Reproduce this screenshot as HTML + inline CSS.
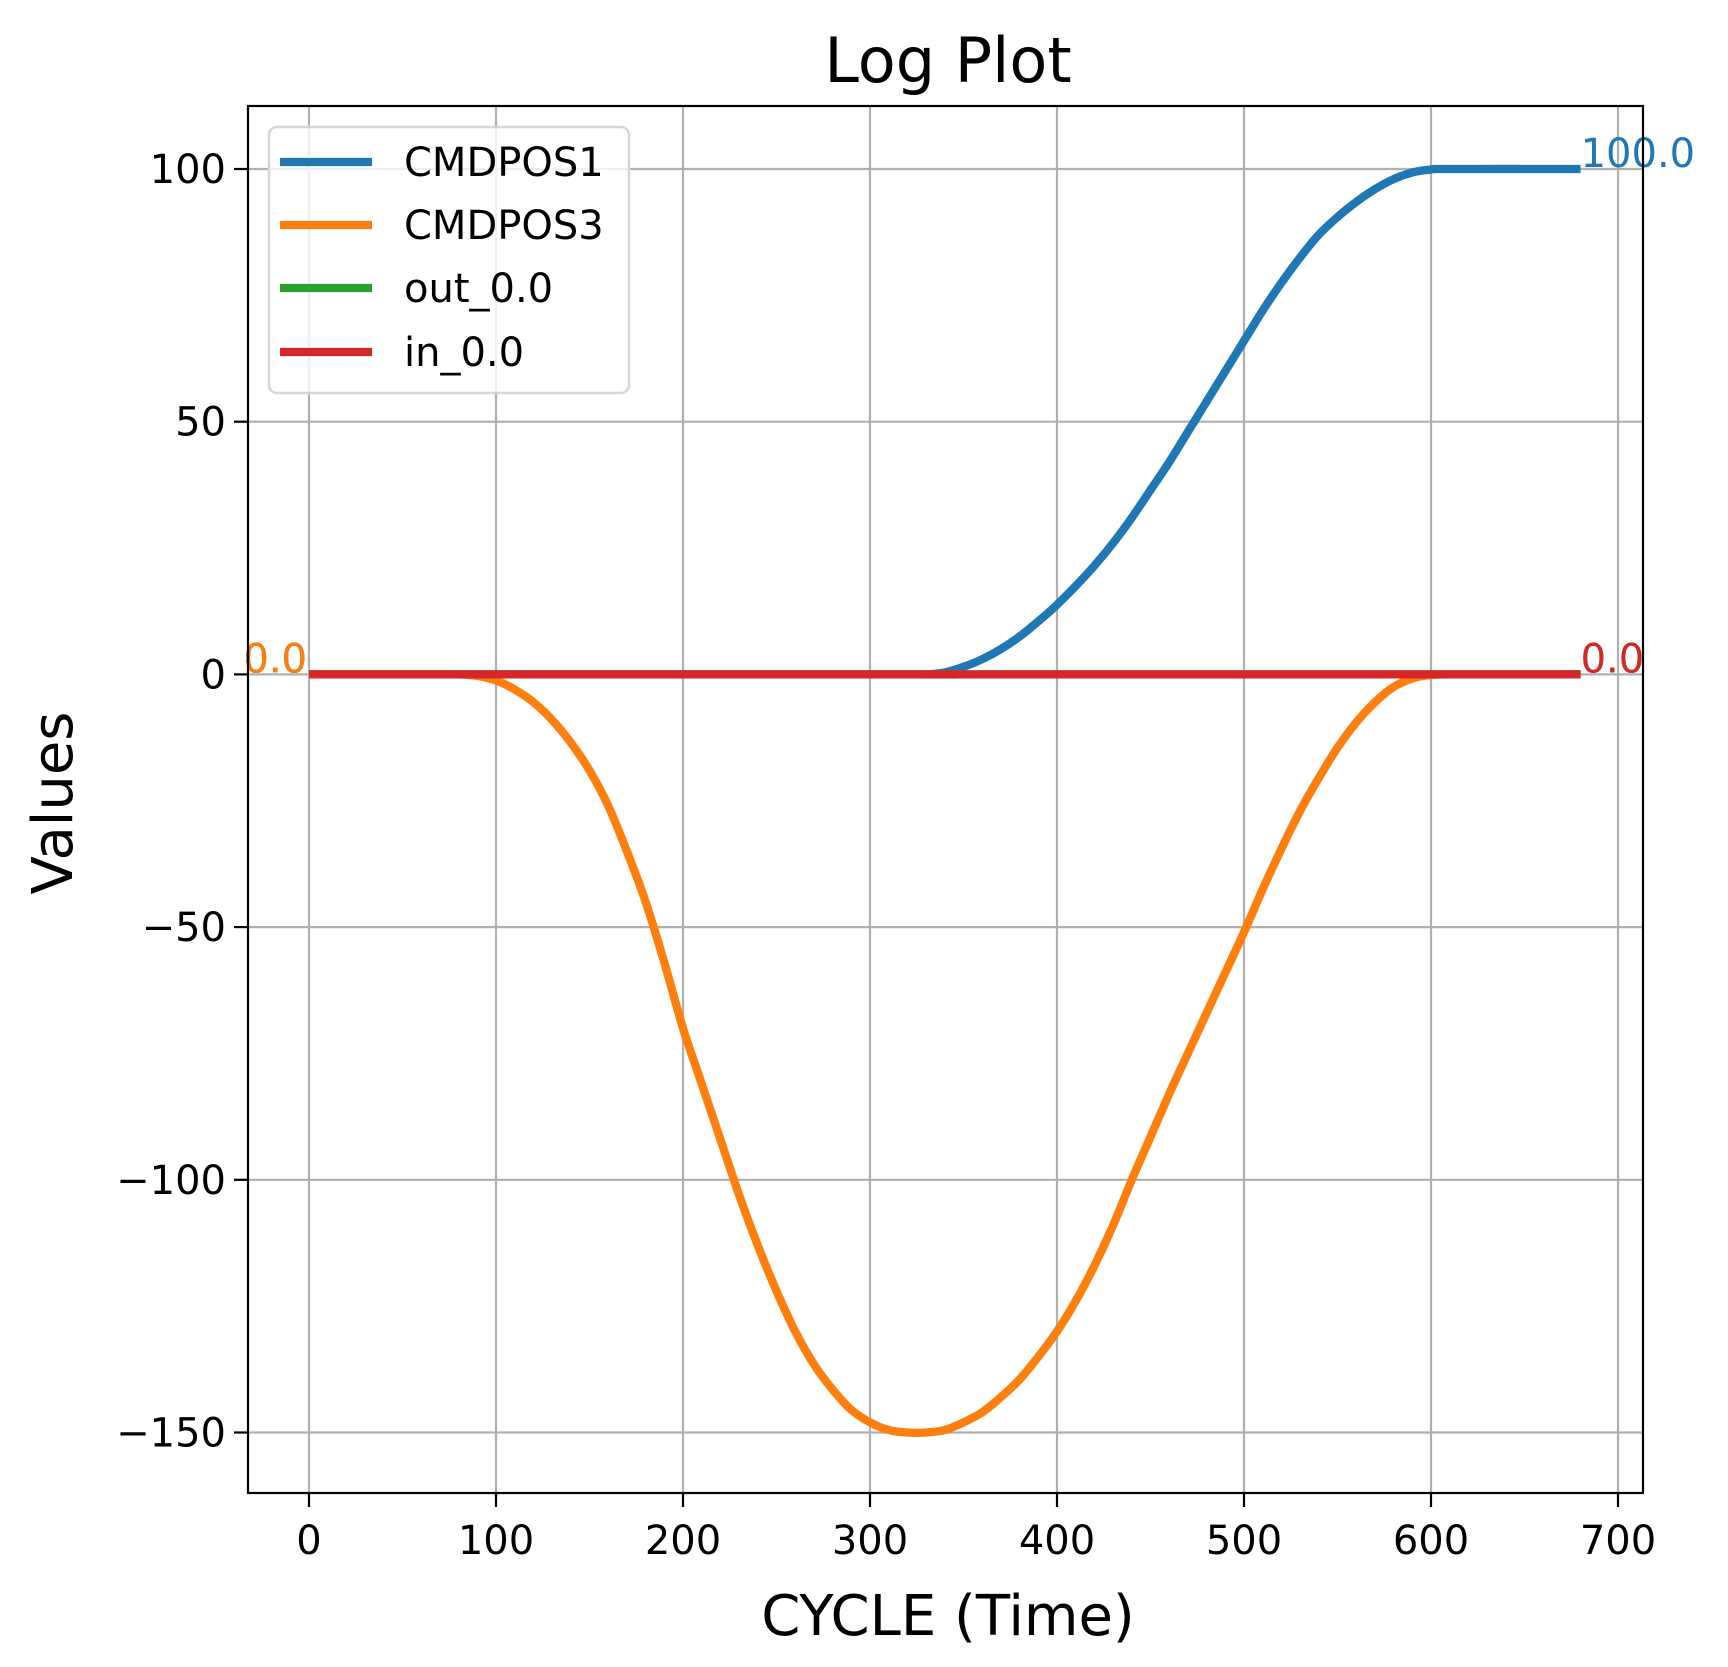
<!DOCTYPE html>
<html><head><meta charset="utf-8"><style>
html,body{margin:0;padding:0;background:#fff}
svg{display:block;font-family:"DejaVu Sans","Liberation Sans",sans-serif}
</style></head><body>
<svg id="chart" width="1728" height="1667" viewBox="0 0 1728 1667" xmlns="http://www.w3.org/2000/svg">
<rect width="1728" height="1667" fill="#fff"/>
<g id="grid"></g>
<g id="series"></g>
<g id="annos"></g>
<rect x="248" y="106" width="1395" height="1387" fill="none" stroke="#000" stroke-width="2.2"/>
<g id="ticks"></g>
<text x="948" y="82" font-size="62" text-anchor="middle">Log Plot</text>
<text x="948" y="1635" font-size="56" text-anchor="middle">CYCLE (Time)</text>
<text x="0" y="0" font-size="56" text-anchor="middle" transform="translate(72,803) rotate(-90)">Values</text>
<g id="legend"></g>
</svg>
<script>
const xTicks=[0,100,200,300,400,500,600,700];
const yTicks=[-150,-100,-50,0,50,100];
const yTickLabels=["\u2212150","\u2212100","\u221250","0","50","100"];
const xs=[0,320,330,340,350,360,370,380,390,400,410,420,430,440,450,460,470,480,490,500,510,520,530,540,550,560,570,580,590,600,610,680];
const cmdpos1=[0,0,0,0.4,1.5,3,5,7.5,10.5,13.8,17.5,21.5,26,31,36.5,42,48,54,60,66,72,77.5,82.5,87,90.5,93.5,96,98,99.3,99.9,100,100];
const xs3=[0,70,80,90,100,110,120,130,140,150,160,170,180,190,200,210,220,230,240,250,260,270,280,290,300,310,320,330,340,350,360,370,380,390,400,410,420,430,440,450,460,470,480,490,500,510,520,530,540,550,560,570,580,590,600,610,620,680];
const cmdpos3=[0,0,0,-0.3,-1.2,-3,-5.5,-9,-13.5,-19,-26,-35,-45,-57,-70,-81,-92,-103,-113,-122,-130,-136.5,-141.5,-145.5,-148,-149.5,-150,-150,-149.5,-148,-146,-143,-139.5,-135,-130,-124,-117,-109,-100,-91.5,-83,-75,-67,-59,-51,-42.5,-34.5,-27,-20.5,-14.5,-9.5,-5.5,-2.5,-0.8,-0.1,0,0,0];
const xsFlat=[0,680];
const out0=[0,0];
const in0=[0,0];
const X=v=>309+(v)*1.87;
const Y=v=>169+(100-v)*(252.7/50);
const NS="http://www.w3.org/2000/svg";
function mk(tag,attrs,parent){const e=document.createElementNS(NS,tag);for(const k in attrs)e.setAttribute(k,attrs[k]);parent.appendChild(e);return e;}
function smoothPath(xv,yv){
 const P=xv.map((x,i)=>[X(x),Y(yv[i])]);
 let d='M'+P[0][0].toFixed(1)+','+P[0][1].toFixed(1);
 for(let i=0;i<P.length-1;i++){
  const p0=P[Math.max(0,i-1)],p1=P[i],p2=P[i+1],p3=P[Math.min(P.length-1,i+2)];
  const c1=[p1[0]+(p2[0]-p0[0])/6,p1[1]+(p2[1]-p0[1])/6];
  const c2=[p2[0]-(p3[0]-p1[0])/6,p2[1]-(p3[1]-p1[1])/6];
  if(Math.abs(p2[0]-p1[0])>200){d+=' L'+p2[0].toFixed(1)+','+p2[1].toFixed(1);continue;}
  d+=' C'+c1[0].toFixed(1)+','+c1[1].toFixed(1)+' '+c2[0].toFixed(1)+','+c2[1].toFixed(1)+' '+p2[0].toFixed(1)+','+p2[1].toFixed(1);
 }
 return d;
}
const grid=document.getElementById('grid'),ticks=document.getElementById('ticks');
xTicks.forEach((t,i)=>{
 const g=mk('line',{x1:X(t),x2:X(t),y1:106,y2:1493,stroke:'#b0b0b0','stroke-width':2.2},grid);
 
 
 const tk=mk('line',{x1:X(t),x2:X(t),y1:1493,y2:1507,stroke:'#000','stroke-width':2.2},ticks);
 
 
 const tx=mk('text',{x:X(t),y:1554,'font-size':40,'text-anchor':'middle'},ticks);
 tx.textContent=String(t);
 
 
});
yTicks.forEach((t,i)=>{
 const g=mk('line',{x1:248,x2:1643,y1:Y(t),y2:Y(t),stroke:'#b0b0b0','stroke-width':2.2},grid);
 
 
 const tk=mk('line',{x1:234,x2:248,y1:Y(t),y2:Y(t),stroke:'#000','stroke-width':2.2},ticks);
 
 
 const tx=mk('text',{x:226,y:Y(t)+14,'font-size':40,'text-anchor':'end'},ticks);
 tx.textContent=yTickLabels[i];
 
 
});
const series=document.getElementById('series');
const defs=[["CMDPOS1",xs,cmdpos1,"#1f77b4"],["CMDPOS3",xs3,cmdpos3,"#ff7f0e"],["out_0.0",xsFlat,out0,"#2ca02c"],["in_0.0",xsFlat,in0,"#d62728"]];
defs.forEach(([name,xv,yv,c])=>{
 const p=mk('path',{d:smoothPath(xv,yv),fill:'none',stroke:c,'stroke-width':8.3,'stroke-linejoin':'round'},series);
 
 
});
const annos=document.getElementById('annos');
[defs[0],defs[2],defs[3],defs[1]].forEach(([name,xv,yv,c])=>{
 const a=mk('text',{x:X(xv[0])-2,y:Y(yv[0])-2,'font-size':40,'text-anchor':'end',fill:c},annos);
 a.textContent=yv[0].toFixed(1);
 
 
});
defs.forEach(([name,xv,yv,c])=>{
 const n=xv.length-1;
 const b=mk('text',{x:X(xv[n]),y:Y(yv[n])-2,'font-size':40,'text-anchor':'start',fill:c},annos);
 b.textContent=yv[n].toFixed(1);
 
 
});
const leg=document.getElementById('legend');
const box=mk('rect',{x:269,y:127,width:360,height:266,rx:8,fill:'#fff','fill-opacity':0.8,stroke:'#d6d6d6','stroke-width':2.5},leg);


const rowsY=[162,225,288,352];
defs.forEach(([name,xv,yv,c],i)=>{
 const l=mk('line',{x1:280,x2:372,y1:rowsY[i],y2:rowsY[i],stroke:c,'stroke-width':8.3},leg);
 
 
 const t=mk('text',{x:404,y:rowsY[i]+14,'font-size':40},leg);
 t.textContent=name;
 
 
});
</script>
</body></html>
